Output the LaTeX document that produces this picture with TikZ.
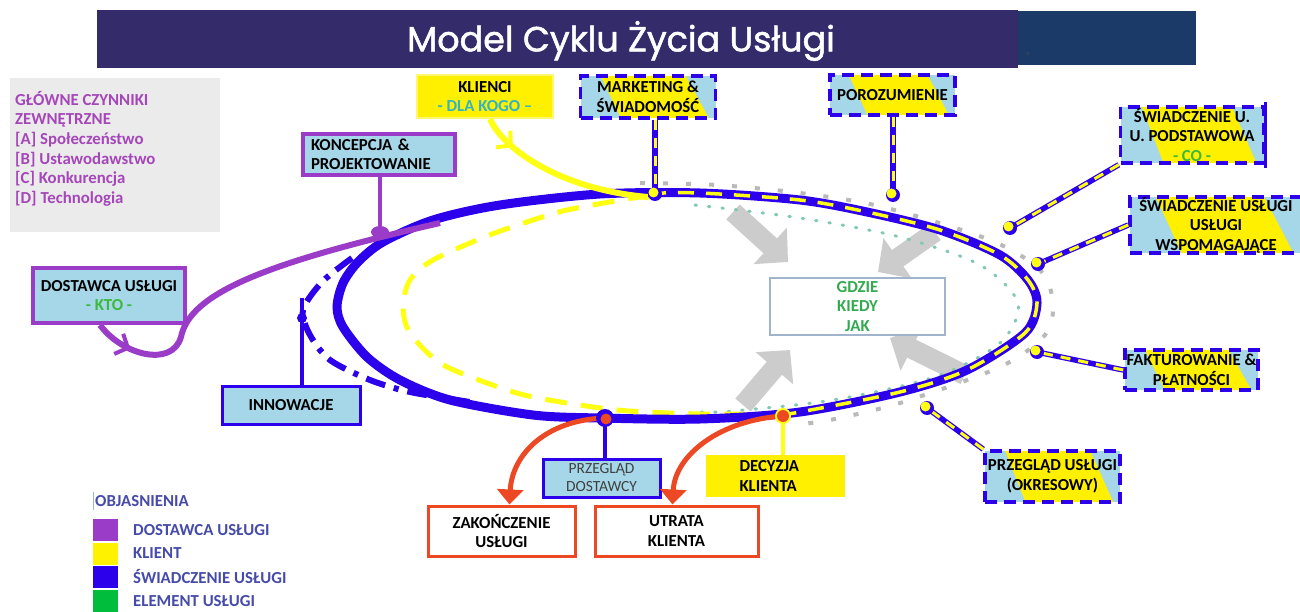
\documentclass[tikz,border=0pt]{standalone}
\usepackage{fontspec}
\setmainfont{Carlito}
\newfontfamily\titlefont[FakeBold=1.4]{Poppins}
\usetikzlibrary{arrows.meta,calc,decorations.markings}
\definecolor{tpurple}{RGB}{52,43,107}
\definecolor{tnavy}{RGB}{27,58,104}
\definecolor{sblue}{RGB}{45,0,235}
\definecolor{syellow}{RGB}{255,240,0}
\definecolor{lyellow}{RGB}{255,255,20}
\definecolor{lblue}{RGB}{165,215,232}
\definecolor{spurple}{RGB}{155,60,200}
\definecolor{sred}{RGB}{236,72,36}
\definecolor{sgreen}{RGB}{50,170,80}
\definecolor{lgreen}{RGB}{60,185,60}
\definecolor{cteal}{RGB}{50,180,200}
\definecolor{tdots}{RGB}{130,200,180}
\definecolor{gdots}{RGB}{185,185,185}
\definecolor{garrow}{RGB}{204,204,204}
\definecolor{factxt}{RGB}{165,70,185}
\definecolor{legtxt}{RGB}{70,75,170}
\definecolor{facbg}{RGB}{235,235,235}
\definecolor{gborder}{RGB}{160,180,205}
\definecolor{swgreen}{RGB}{0,190,60}
\tikzset{
  lbl/.style={font=\bfseries\fontsize{16.8}{19.5}\selectfont, align=center, inner sep=0pt, text=black},
  mixbox/.style={lbl, draw=sblue, line width=3.5pt, dash pattern=on 12pt off 7pt, fill=lblue,
    path picture={\fill[syellow]
      ($(path picture bounding box.north west)!0.15!(path picture bounding box.north east)$) --
      ($(path picture bounding box.north west)!0.78!(path picture bounding box.north east)$) --
      ($(path picture bounding box.south west)!0.95!(path picture bounding box.south east)$) --
      ($(path picture bounding box.south west)!0.30!(path picture bounding box.south east)$) -- cycle;}},
  bydash/.style={draw=lyellow, line width=3pt, dash pattern=on 10pt off 8pt,
    preaction={draw=sblue, line width=5.5pt, solid}},
  redarrow/.style={draw=sred, line width=5pt, -{Triangle[length=15pt,width=26pt]}},
  garrowst/.style={draw=garrow, line width=20pt, -{Triangle[length=24pt,width=48pt]}},
  midarrow/.style 2 args={postaction={decorate}, decoration={markings,
    mark=at position #1 with {\arrow[#2, line width=4pt]{Straight Barb[length=10pt,width=22pt]}}}},
  legsw/.style={minimum width=25pt, minimum height=22pt, inner sep=0pt},
  leglbl/.style={lbl, text=legtxt, anchor=west},
}
\begin{document}
\begin{tikzpicture}[x=1pt,y=-1pt]
\useasboundingbox (0,0) rectangle (1300,612);
\fill[white] (0,0) rectangle (1300,612);

% ---------- title ----------
\fill[tnavy] (1010,11) rectangle (1196,65);
\node[fill=tpurple, minimum width=921pt, minimum height=58pt, inner sep=0pt] (titlebar) at (557.5,39) {};
\node[font=\titlefont\fontsize{35}{40}\selectfont, text=white, inner sep=0pt] (title) at (621,41) {Model Cyklu Życia Usługi};
\node[font=\fontsize{6}{7}\selectfont, text=black!70, inner sep=0pt] (smalln) at (1028,54) {n};

% ---------- gray block arrows ----------
\draw[garrowst] (733,212) -- (788,262);
\draw[garrowst] (935,232) -- (878,272);
\draw[garrowst] (743,405) -- (790,350);
\draw[garrowst] (965,375) -- (890,338);

% ---------- cycle lines ----------
\draw[tdots, line width=3pt, line cap=round, dash pattern=on 1.5pt off 12pt]
  plot[smooth] coordinates {(695,205) (800,218) (900,237) (980,265) (1018,303) (1000,343) (935,377) (833,400) (733,411) (700,412)};
\draw[gdots, line width=4pt, dash pattern=on 5pt off 18pt]
  plot[smooth] coordinates {(640,183) (717,185) (800,193) (883,207) (990,240) (1040,270) (1053,303) (1045,335) (1000,367) (900,403) (830,420) (800,424)};
\draw[lyellow, line width=5pt, dash pattern=on 22pt off 14pt]
  plot[smooth] coordinates {(650,197) (633,198) (567,210) (533,220) (487,236) (433,260) (410,280) (403,307) (410,333) (440,363) (487,383) (533,397) (617,410) (700,414) (745,414)};
\draw[sblue, line width=6pt, dash pattern=on 20pt off 9pt on 5pt off 9pt]
  plot[smooth] coordinates {(352,258) (322,282) (303,310) (310,335) (330,360) (370,380) (410,392) (470,402)};
\draw[sblue, line width=9pt]
  plot[smooth cycle] coordinates {(337,307) (343,283) (358,262) (383,242) (433,220) (500,205) (600,194) (700,193) (800,200) (867,212) (940,230) (1000,255) (1028,280) (1037,303) (1025,333) (967,370) (900,392) (800,412) (700,419) (600,418) (533,415) (450,400) (400,380) (367,357) (343,327)};
\draw[lyellow, line width=3.5pt, dash pattern=on 16pt off 12pt]
  plot[smooth] coordinates {(650,193.5) (700,193) (800,200) (867,212) (940,230) (1000,255) (1028,280) (1037,303) (1025,333) (967,370) (900,392) (800,412) (783,414)};

% ---------- junction coordinates ----------
\coordinate (mkJ) at (655,194);
\coordinate (klJ) at (648,197);
\coordinate (porJ) at (893,195);
\coordinate (podJ) at (1010,228);
\coordinate (wsJ) at (1038,264);
\coordinate (fakJ) at (1037,352);
\coordinate (przUJ) at (927,408);
\coordinate (decJ) at (783,416);
\coordinate (prdJ) at (605,418);
\coordinate (konJ) at (380,232);
\coordinate (dkJ) at (440,223);
\coordinate (innJ) at (302,298);

% ---------- boxes ----------
\node[fill=facbg, minimum width=210pt, minimum height=154pt, inner sep=0pt] (factors) at (115,155) {};
\node[lbl, align=left, text=factxt, anchor=north west, font=\bfseries\fontsize{16.8}{19.6}\selectfont] (factorstext) at (15,91)
  {GŁÓWNE CZYNNIKI\\ZEWNĘTRZNE\\{[A]} Społeczeństwo\\{[B]} Ustawodawstwo\\{[C]} Konkurencja\\{[D]} Technologia};

\node[lbl, fill=syellow, draw=syellow!55!white, line width=2pt, minimum width=136pt, minimum height=43pt] (klienci) at (485,96.5)
  {KLIENCI\\\textcolor{cteal}{- DLA KOGO –}};
\node[mixbox, minimum width=135pt, minimum height=42pt] (marketing) at (648,97) {MARKETING \&\\ŚWIADOMOŚĆ};
\node[mixbox, minimum width=125pt, minimum height=40pt] (poroz) at (892.5,95) {POROZUMIENIE};
\node[mixbox, minimum width=143pt, minimum height=56pt] (podst) at (1192,135) {ŚWIADCZENIE U.\\U. PODSTAWOWA\\\textcolor{lgreen}{- CO -}};
\draw[sblue, line width=3pt] ($(podst.north east)+(0,-3)$) -- ($(podst.south east)+(0,3)$);
\node[mixbox, minimum width=172pt, minimum height=56pt] (wspom) at (1216,225) {ŚWIADCZENIE USŁUGI\\USŁUGI\\WSPOMAGAJĄCE};
\node[mixbox, minimum width=133pt, minimum height=40pt] (faktur) at (1191.5,370) {FAKTUROWANIE \&\\PŁATNOŚCI};
\node[mixbox, minimum width=135pt, minimum height=51pt] (przegU) at (1052.5,476.5) {PRZEGLĄD USŁUGI\\(OKRESOWY)};
\node[lbl, fill=syellow, minimum width=139pt, minimum height=42pt, text width=72pt, align=left] (decyzja) at (775.5,476) {DECYZJA\\KLIENTA};
\node[lbl, fill=lblue, draw=sblue, line width=3pt, minimum width=117pt, minimum height=38pt,
  font=\fontsize{15.5}{18}\selectfont, text=black!75] (przegD) at (601.5,478) {PRZEGLĄD\\DOSTAWCY};
\node[lbl, fill=white, draw=sred, line width=3pt, minimum width=147pt, minimum height=50pt] (zakon) at (501.5,531) {ZAKOŃCZENIE\\USŁUGI};
\node[lbl, fill=white, draw=sred, line width=3pt, minimum width=163pt, minimum height=50pt] (utrata) at (676.5,531) {UTRATA\\KLIENTA};
\node[lbl, fill=lblue, draw=sblue, line width=3pt, minimum width=138pt, minimum height=38pt] (innow) at (291,405) {INNOWACJE};
\node[lbl, fill=lblue, draw=spurple, line width=4pt, minimum width=152pt, minimum height=55pt] (dostawca) at (109,295.5)
  {DOSTAWCA USŁUGI\\\textcolor{lgreen}{- KTO -}};
\node[lbl, fill=lblue, draw=spurple, line width=4pt, minimum width=152pt, minimum height=41pt, text width=136pt, align=left] (koncep) at (379,154.5)
  {KONCEPCJA \&\\PROJEKTOWANIE};
\node[lbl, fill=white, draw=gborder, line width=1.5pt, minimum width=175pt, minimum height=57pt, text=sgreen] (gdzie) at (857.5,306.5)
  {GDZIE\\KIEDY\\JAK};

% ---------- connectors ----------
\draw[lyellow, line width=6pt, midarrow={0.2}{lyellow}] ($(klienci.south)+(5,0)$) .. controls (505,152) and (565,190) .. (klJ);
\draw[bydash] (marketing.south -| mkJ) -- (mkJ);
\draw[bydash] (poroz.south -| porJ) -- (porJ);
\draw[bydash] (podst.south west) -- (podJ);
\draw[bydash] (wspom.west) -- (wsJ);
\draw[bydash] (faktur.west) -- (fakJ);
\draw[bydash] (przegU.north west) -- (przUJ);
\foreach \j in {mkJ,porJ,podJ,wsJ,fakJ,przUJ}{
  \fill[sblue] (\j) circle (7pt);
  \fill[lyellow] ($(\j)+(-1.5,-1.5)$) circle (5pt);
}
\draw[lyellow, line width=4pt] (decyzja.north -| decJ) -- (decJ);
\draw[sblue, line width=4pt] (przegD.north -| prdJ) -- (prdJ);
\draw[redarrow] (prdJ) .. controls (545,420) and (512,455) .. ($(zakon.north)+(8,0)$);
\draw[redarrow] (decJ) .. controls (720,420) and (675,455) .. ($(utrata.north)+(-4,0)$);
\fill[sblue] (prdJ) circle (9pt);
\fill[sred] ($(prdJ)+(1,1)$) circle (5.5pt);
\fill[lyellow] (decJ) circle (8pt);
\fill[sred] (decJ) circle (6pt);

\draw[spurple, line width=6pt, midarrow={0.1}{spurple}] ($(dostawca.south)+(-9,0)$) .. controls (122,355) and (172,368) .. (181,337)
  .. controls (190,292) and (270,262) .. (dkJ);
\draw[spurple, line width=4pt] (koncep.south -| konJ) -- (konJ);
\fill[spurple] (konJ) ellipse (9pt and 6pt);
\draw[sblue, line width=4pt] (innow.north -| innJ) -- (innJ);
\fill[sblue] (302,318) circle (5pt);

% ---------- legend ----------
\draw[gborder, line width=1pt] (93,492) -- (93,510);
\node[lbl, text=legtxt, anchor=west] (objas) at (95,501) {OBJASNIENIA};
\node[legsw, fill=spurple] (sw1) at (105.5,530) {};
\node[legsw, fill=yellow] (sw2) at (105.5,553.5) {};
\node[legsw, fill=sblue] (sw3) at (105.5,577) {};
\node[legsw, fill=swgreen] (sw4) at (105.5,601) {};
\node[leglbl] (lg1) at (133,530) {DOSTAWCA USŁUGI};
\node[leglbl] (lg2) at (133,553) {KLIENT};
\node[leglbl] (lg3) at (133,577) {ŚWIADCZENIE USŁUGI};
\node[leglbl] (lg4) at (133,601) {ELEMENT USŁUGI};
\end{tikzpicture}
\end{document}
